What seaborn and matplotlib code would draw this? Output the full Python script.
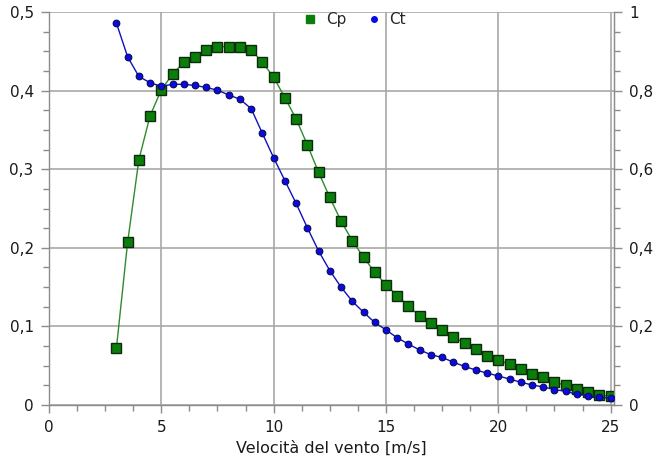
import matplotlib
matplotlib.use("Agg")
import matplotlib.pyplot as plt
import seaborn as sns
import pandas as pd
from matplotlib.lines import Line2D
from matplotlib.ticker import MultipleLocator

wind_speed = [3, 3.5, 4, 4.5, 5, 5.5, 6, 6.5, 7, 7.5,
              8, 8.5, 9, 9.5, 10, 10.5, 11, 11.5, 12, 12.5,
              13, 13.5, 14, 14.5, 15, 15.5, 16, 16.5, 17, 17.5,
              18, 18.5, 19, 19.5, 20, 20.5, 21, 21.5, 22, 22.5,
              23, 23.5, 24, 24.5, 25]
cp = [0.072, 0.207, 0.312, 0.368, 0.401, 0.421, 0.436, 0.443, 0.452, 0.456,
      0.456, 0.456, 0.452, 0.436, 0.417, 0.391, 0.364, 0.331, 0.296, 0.264,
      0.234, 0.209, 0.188, 0.169, 0.153, 0.139, 0.126, 0.113, 0.104, 0.096,
      0.086, 0.079, 0.071, 0.062, 0.057, 0.052, 0.046, 0.040, 0.035, 0.029,
      0.025, 0.020, 0.016, 0.013, 0.011]
ct = [0.972, 0.886, 0.836, 0.820, 0.811, 0.816, 0.816, 0.813, 0.808, 0.801,
      0.789, 0.778, 0.754, 0.691, 0.629, 0.571, 0.513, 0.451, 0.392, 0.342,
      0.300, 0.264, 0.236, 0.210, 0.191, 0.171, 0.155, 0.140, 0.128, 0.121,
      0.109, 0.098, 0.089, 0.081, 0.074, 0.066, 0.058, 0.051, 0.046, 0.039,
      0.035, 0.027, 0.024, 0.020, 0.017]

x_ticks = [0, 5, 10, 15, 20, 25]
x_tick_labels = ["0", "5", "10", "15", "20", "25"]
left_ticks = [0, 0.1, 0.2, 0.3, 0.4, 0.5]
left_tick_labels = ["0", "0,1", "0,2", "0,3", "0,4", "0,5"]
right_ticks = [0, 0.2, 0.4, 0.6, 0.8, 1.0]
right_tick_labels = ["0", "0,2", "0,4", "0,6", "0,8", "1"]
x_label = "Velocità del vento [m/s]"

df = pd.DataFrame({"v": wind_speed, "Cp": cp, "Ct": ct})

sns.set_style("white")
plt.rcParams["font.family"] = ["DejaVu Sans"]

fig = plt.figure(figsize=(6.72, 4.59), dpi=100)
ax = fig.add_axes([49 / 672, 1 - 405 / 459, (614 - 49) / 672, (405 - 12) / 459])

green = "#0a7d0a"
blue = "#0a0ae6"
grid_col = "#a8a8a8"

sns.lineplot(data=df, x="v", y="Cp", ax=ax, color="#2e8b2e", linewidth=1.0,
             marker="s", markersize=6.5, markerfacecolor=green,
             markeredgecolor="#0b2b0b", markeredgewidth=1.0, zorder=3)

ax.set_xlim(0, 25.15)
ax.set_ylim(0, 0.5)
ax.set_xticks(x_ticks)
ax.set_xticklabels(x_tick_labels)
ax.set_yticks(left_ticks)
ax.set_yticklabels(left_tick_labels)
ax.xaxis.set_minor_locator(MultipleLocator(1.25))
ax.yaxis.set_minor_locator(MultipleLocator(0.025))
ax.grid(True, which="major", color=grid_col, linewidth=1.2)
ax.set_axisbelow(True)
ax.set_xlabel(x_label, fontsize=11.5, color="#1a1a1a", labelpad=4)
ax.set_ylabel("")
ax.tick_params(axis="both", which="major", direction="out", length=6, width=1,
               color="#8c8c8c", labelsize=11, labelcolor="#1a1a1a", pad=5)
ax.tick_params(axis="both", which="minor", direction="out", length=4, width=1,
               color="#8c8c8c")
ax.tick_params(axis="x", which="both", bottom=True)
ax.tick_params(axis="y", which="both", left=True)
ax.spines["top"].set_visible(False)
for s in ["left", "bottom", "right"]:
    ax.spines[s].set_color("#8c8c8c")
    ax.spines[s].set_linewidth(1.0)

ax2 = ax.twinx()
sns.lineplot(data=df, x="v", y="Ct", ax=ax2, color="#1010c0", linewidth=1.0,
             marker="o", markersize=4.8, markerfacecolor=blue,
             markeredgecolor="#0a0a50", markeredgewidth=0.8, zorder=4)
ax2.set_ylim(0, 1.0)
ax2.set_yticks(right_ticks)
ax2.set_yticklabels(right_tick_labels)
ax2.yaxis.set_minor_locator(MultipleLocator(0.05))
ax2.set_ylabel("")
ax2.tick_params(axis="y", which="major", direction="out", length=6, width=1,
                color="#8c8c8c", labelsize=11, labelcolor="#1a1a1a", pad=5, right=True)
ax2.tick_params(axis="y", which="minor", direction="out", length=4, width=1,
                color="#8c8c8c", right=True)
ax2.spines["top"].set_visible(False)
ax2.spines["right"].set_color("#8c8c8c")
ax2.spines["left"].set_visible(False)
ax2.spines["bottom"].set_visible(False)

handles = [
    Line2D([], [], linestyle="none", marker="s", markersize=5.5,
           markerfacecolor=green, markeredgecolor=green, label="Cp"),
    Line2D([], [], linestyle="none", marker="o", markersize=4,
           markerfacecolor=blue, markeredgecolor=blue, label="Ct"),
]
leg = ax2.legend(handles=handles, loc="upper center", bbox_to_anchor=(0.54, 1.035),
                 ncol=2, frameon=False, fontsize=11, handlelength=1.0,
                 handletextpad=0.5, columnspacing=1.3)
leg.set_zorder(10)

fig.savefig("out.png", dpi=100)
